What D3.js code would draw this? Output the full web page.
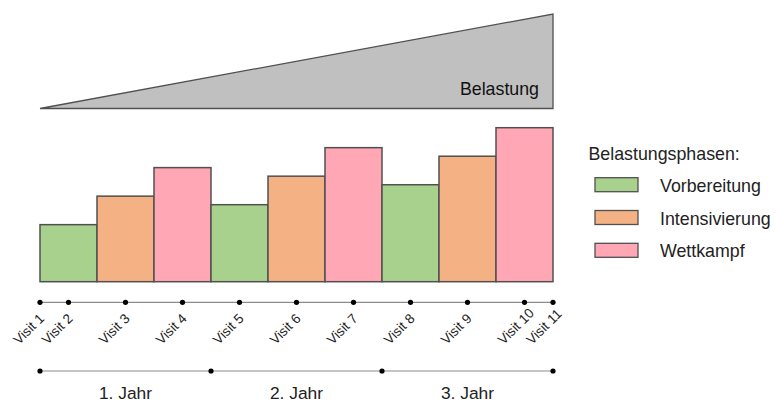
<!DOCTYPE html>
<html>
<head>
<meta charset="utf-8">
<script src="https://cdn.jsdelivr.net/npm/d3@7"></script>
<style>
  body { margin: 0; background: #fff; }
  svg { display: block; font-family: "Liberation Sans", Arial, sans-serif; }
</style>
</head>
<body>
<svg id="chart" width="775" height="405"></svg>
<script>
// Phases of the training cycle, one bar per phase
const phases = ["Vorbereitung", "Intensivierung", "Wettkampf",
                "Vorbereitung", "Intensivierung", "Wettkampf",
                "Vorbereitung", "Intensivierung", "Wettkampf"];
const loadValues = [2.0, 3.0, 4.0, 2.7, 3.7, 4.7, 3.4, 4.4, 5.4];

// Visits along the time axis (in bar units)
const visitLabels = ["Visit 1", "Visit 2", "Visit 3", "Visit 4", "Visit 5", "Visit 6",
                     "Visit 7", "Visit 8", "Visit 9", "Visit 10", "Visit 11"];
const visitPos = [0, 0.5, 1.5, 2.5, 3.5, 4.5, 5.5, 6.5, 7.5, 8.5, 9];

// Years
const yearLabels = ["1. Jahr", "2. Jahr", "3. Jahr"];
const yearBounds = [0, 3, 6, 9];

// Overall load wedge (start, end)
const wedgeValues = [0, 1];

const legendItems = ["Vorbereitung", "Intensivierung", "Wettkampf"];
const phaseColors = ["#a9d18e", "#f4b183", "#ffa7b5"];

const svg = d3.select("#chart");

const x = d3.scaleLinear().domain([0, 9]).range([40, 553]);
const y = d3.scaleLinear().domain([0, 5.4]).range([281.7, 127.7]);
const wedgeY = d3.scaleLinear().domain([0, 1]).range([108.5, 14]);
const color = d3.scaleOrdinal().domain(legendItems).range(phaseColors);

// Load wedge
const wedgePts = [
  [x(0), wedgeY(wedgeValues[0])],
  [x(9), wedgeY(wedgeValues[1])],
  [x(9), wedgeY(0)]
];
svg.append("path")
  .attr("d", d3.line()(wedgePts) + "Z")
  .attr("fill", "#c0c0c0")
  .attr("stroke", "#505050")
  .attr("stroke-width", 1.3)
  .attr("stroke-linejoin", "miter");

svg.append("text")
  .attr("x", 539)
  .attr("y", 95)
  .attr("text-anchor", "end")
  .attr("font-size", 17.8)
  .attr("fill", "#111")
  .text("Belastung");

// Bars
svg.append("g").selectAll("rect")
  .data(loadValues)
  .join("rect")
  .attr("x", (d, i) => x(i))
  .attr("y", d => y(d))
  .attr("width", x(1) - x(0))
  .attr("height", d => y(0) - y(d))
  .attr("fill", (d, i) => color(phases[i]))
  .attr("stroke", "#505050")
  .attr("stroke-width", 1.5);

// Visit timeline
const visitY = 302.3;
svg.append("line")
  .attr("x1", x(0)).attr("x2", x(9))
  .attr("y1", visitY).attr("y2", visitY)
  .attr("stroke", "#8c8c8c").attr("stroke-width", 1.2);

svg.append("g").selectAll("circle")
  .data(visitPos)
  .join("circle")
  .attr("cx", d => x(d))
  .attr("cy", visitY)
  .attr("r", 2.6)
  .attr("fill", "#000");

svg.append("g").selectAll("text")
  .data(visitPos)
  .join("text")
  .attr("transform", d => `translate(${x(d) - 21},${visitY + 43}) rotate(-45)`)
  .attr("text-anchor", "start")
  .attr("font-size", 13.6)
  .attr("fill", "#222")
  .text((d, i) => visitLabels[i]);

// Year timeline
const yearY = 371;
svg.append("line")
  .attr("x1", x(0)).attr("x2", x(9))
  .attr("y1", yearY).attr("y2", yearY)
  .attr("stroke", "#8c8c8c").attr("stroke-width", 1.2);

svg.append("g").selectAll("circle")
  .data(yearBounds)
  .join("circle")
  .attr("cx", d => x(d))
  .attr("cy", yearY)
  .attr("r", 2.6)
  .attr("fill", "#000");

svg.append("g").selectAll("text")
  .data(yearLabels)
  .join("text")
  .attr("x", (d, i) => (x(yearBounds[i]) + x(yearBounds[i + 1])) / 2)
  .attr("y", 399)
  .attr("text-anchor", "middle")
  .attr("font-size", 17.4)
  .attr("fill", "#222")
  .text(d => d);

// Legend
const legend = svg.append("g");
legend.append("text")
  .attr("x", 588.5)
  .attr("y", 159.5)
  .attr("font-size", 17.8)
  .attr("fill", "#222")
  .text("Belastungsphasen:");

const items = legend.selectAll("g.item")
  .data(legendItems)
  .join("g")
  .attr("class", "item")
  .attr("transform", (d, i) => `translate(595,${177.7 + i * 32.8})`);

items.append("rect")
  .attr("width", 43)
  .attr("height", 14)
  .attr("fill", d => color(d))
  .attr("stroke", "#505050")
  .attr("stroke-width", 1.3);

items.append("text")
  .attr("x", 65)
  .attr("y", 14)
  .attr("font-size", 17.8)
  .attr("fill", "#222")
  .text(d => d);
</script>
</body>
</html>
